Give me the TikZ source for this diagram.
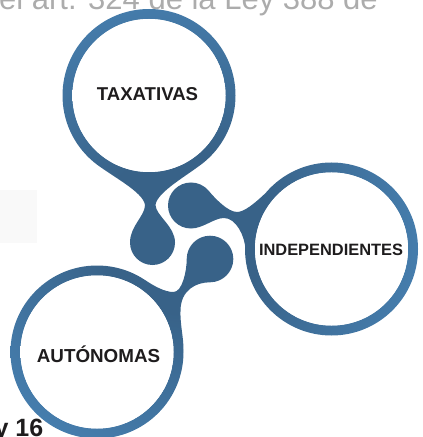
\documentclass[tikz,border=0pt]{standalone}
\usepackage{fontspec}
\setmainfont{Liberation Sans}
\definecolor{blight}{RGB}{78,142,196}
\definecolor{bdark}{RGB}{56,98,136}
\definecolor{ink}{RGB}{30,28,29}
\definecolor{toptext}{RGB}{172,172,172}
\pgfdeclareradialshading{bluerad}{\pgfpoint{0bp}{0bp}}{color(0bp)=(bdark); color(8bp)=(bdark); color(32bp)=(blight); color(50bp)=(blight)}
\pgfdeclareradialshading{shadowA}{\pgfpoint{0bp}{0bp}}{color(0bp)=(white); color(40bp)=(white); color(50bp)=(black!25)}
\pgfdeclareradialshading{shadowT}{\pgfpoint{0bp}{0bp}}{color(0bp)=(white); color(40bp)=(white); color(50bp)=(black!18)}
\pgfdeclareradialshading{shadowI}{\pgfpoint{0bp}{0bp}}{color(0bp)=(white); color(40bp)=(white); color(50bp)=(black!10)}
\tikzset{
  lbl/.style={text=ink, inner sep=0pt, anchor=base},
  inner/.style={fill=white}
}
\begin{document}
\begin{tikzpicture}[x=1bp,y=-1bp]
\useasboundingbox (0,0) rectangle (422,437);
% faint background block
\fill[black!2.5] (0,190) rectangle (37,243);
% cut-off line of text at the top
\node[overlay, text=toptext, inner sep=0pt, anchor=base west, font=\fontsize{31bp}{34bp}\selectfont] (toptxt) at (-1,10) {el art. 324 de la Ley 388 de};
% blue rings, tails and blobs
\begin{scope}
\clip
  (235.5,95.5) arc[start angle=0,end angle=360,radius=86.5]
  (418,249) arc[start angle=0,end angle=360,radius=86.5]
  (183.5,352) arc[start angle=0,end angle=360,radius=86.5]
  % TAXATIVAS tail
  (149,95.5) -- (203,163) .. controls (187.4,175.5) and (157,192) .. (155.5,205)
    .. controls (156,216) and (175,226) .. (175,242.5)
    arc[start angle=0, end angle=180, radius=22.5]
    .. controls (130,226) and (145,216) .. (145,205)
    .. controls (143.5,192) and (110.6,175.5) .. (95,163) -- cycle
  % INDEPENDIENTES tail
  (191,228.5) arc[start angle=90, end angle=320, radius=23]
    .. controls (215,198.4) and (228,212) .. (237,212)
    .. controls (244,212) and (254,204) .. (265.2,193.4)
    -- (331.5,249) -- (255.3,290)
    .. controls (249.6,279.4) and (247,262) .. (245.5,250)
    .. controls (245,236) and (236,218) .. (224,218)
    .. controls (214,218) and (203,228.5) .. (191,228.5) -- cycle
  % AUTONOMAS tail
  (145,280) .. controls (155,286.7) and (165,292) .. (173.5,292)
    .. controls (182,292) and (186.7,272) .. (186.7,259)
    arc[start angle=180, end angle=450, radius=23.3]
    .. controls (196,282.3) and (181,290) .. (180.5,310)
    .. controls (180,325) and (183.5,336) .. (183.5,350)
    -- (97,352) -- cycle;
\shade[overlay, shading=bluerad] (185,230) circle[radius=260];
\end{scope}
% inner white faces with soft inner shadow
\begin{scope}
\clip (149,95.5) circle[radius=76.5];
\fill[inner] (149,95.5) circle[radius=77];
\shade[overlay, shading=shadowT] (152,84) circle[radius=88.5];
\end{scope}
\begin{scope}
\clip (331.5,249) circle[radius=76.5];
\fill[inner] (331.5,249) circle[radius=77];
\shade[overlay, shading=shadowI] (341,252) circle[radius=86.5];
\end{scope}
\begin{scope}
\clip (97,352) circle[radius=76.5];
\fill[inner] (97,352) circle[radius=77];
\shade[overlay, shading=shadowA] (84,357.6) circle[radius=90.5];
\end{scope}
% labels
\node[lbl, font=\fontsize{18.6bp}{20bp}\selectfont\bfseries] (tax) at (147.5,100.7) {TAXATIVAS};
\node[lbl, font=\fontsize{16.4bp}{18bp}\selectfont\bfseries] (ind) at (331,255.2) {INDEPENDIENTES};
\node[lbl, font=\fontsize{18.8bp}{20bp}\selectfont\bfseries] (aut) at (98.5,362) {AUTÓNOMAS};
\node[lbl, overlay, anchor=base east, font=\fontsize{25bp}{27bp}\selectfont\bfseries] (pg) at (43.5,436) {y 16};
\end{tikzpicture}
\end{document}
